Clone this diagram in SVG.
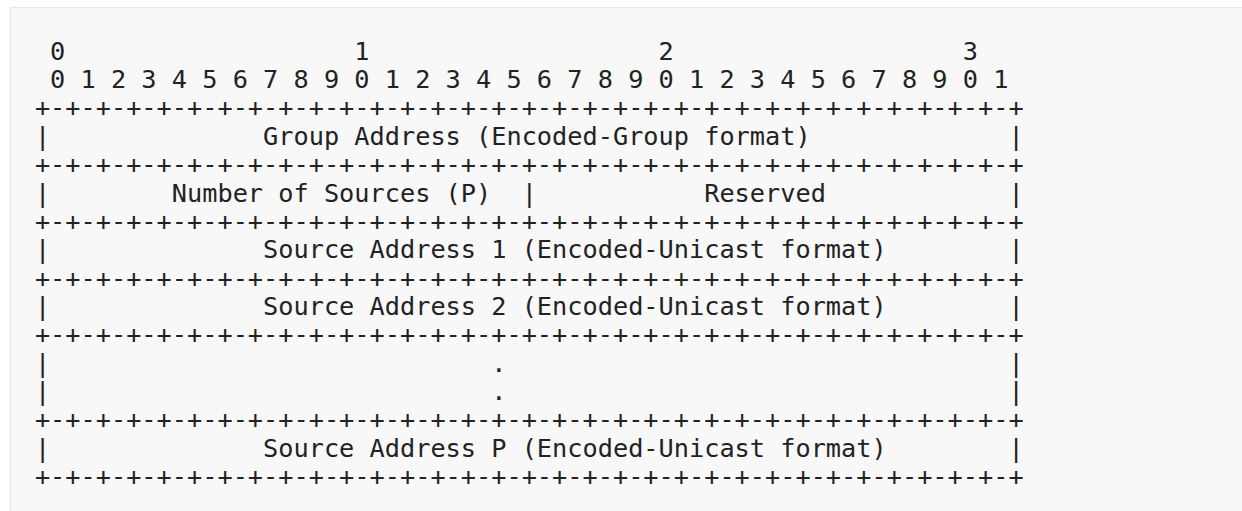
<svg xmlns="http://www.w3.org/2000/svg" width="1242" height="511" viewBox="0 0 1242 511">
<style>
.t{font-family:"DejaVu Sans Mono","Liberation Mono",monospace;font-size:25.28px;fill:#222;white-space:pre}
</style>
<rect x="0" y="0" width="1242" height="511" fill="#ffffff"/>
<rect x="10.5" y="7.5" width="1240" height="510" fill="#f8f8f8" stroke="#e6e6e6" stroke-width="1"/>
<g id="ruler">
<text class="t" x="34.9" y="59.7" xml:space="preserve"> 0                   1                   2                   3</text>
<text class="t" x="34.9" y="88.06" xml:space="preserve"> 0 1 2 3 4 5 6 7 8 9 0 1 2 3 4 5 6 7 8 9 0 1 2 3 4 5 6 7 8 9 0 1</text>
</g>
<g id="borders">
<text class="t" x="34.9" y="116.42" xml:space="preserve">+-+-+-+-+-+-+-+-+-+-+-+-+-+-+-+-+-+-+-+-+-+-+-+-+-+-+-+-+-+-+-+-+</text>
<text class="t" x="34.9" y="173.14" xml:space="preserve">+-+-+-+-+-+-+-+-+-+-+-+-+-+-+-+-+-+-+-+-+-+-+-+-+-+-+-+-+-+-+-+-+</text>
<text class="t" x="34.9" y="229.86" xml:space="preserve">+-+-+-+-+-+-+-+-+-+-+-+-+-+-+-+-+-+-+-+-+-+-+-+-+-+-+-+-+-+-+-+-+</text>
<text class="t" x="34.9" y="286.58" xml:space="preserve">+-+-+-+-+-+-+-+-+-+-+-+-+-+-+-+-+-+-+-+-+-+-+-+-+-+-+-+-+-+-+-+-+</text>
<text class="t" x="34.9" y="343.3" xml:space="preserve">+-+-+-+-+-+-+-+-+-+-+-+-+-+-+-+-+-+-+-+-+-+-+-+-+-+-+-+-+-+-+-+-+</text>
<text class="t" x="34.9" y="428.38" xml:space="preserve">+-+-+-+-+-+-+-+-+-+-+-+-+-+-+-+-+-+-+-+-+-+-+-+-+-+-+-+-+-+-+-+-+</text>
<text class="t" x="34.9" y="485.1" xml:space="preserve">+-+-+-+-+-+-+-+-+-+-+-+-+-+-+-+-+-+-+-+-+-+-+-+-+-+-+-+-+-+-+-+-+</text>
</g>
<g id="group-address">
<text class="t" x="34.9" y="144.78" xml:space="preserve">|              Group Address (Encoded-Group format)             |</text>
</g>
<g id="number-reserved">
<text class="t" x="34.9" y="201.5" xml:space="preserve">|        Number of Sources (P)  |           Reserved            |</text>
</g>
<g id="source-1">
<text class="t" x="34.9" y="258.22" xml:space="preserve">|              Source Address 1 (Encoded-Unicast format)        |</text>
</g>
<g id="source-2">
<text class="t" x="34.9" y="314.94" xml:space="preserve">|              Source Address 2 (Encoded-Unicast format)        |</text>
</g>
<g id="ellipsis">
<text class="t" x="34.9" y="371.66" xml:space="preserve">|                             .                                 |</text>
<text class="t" x="34.9" y="400.02" xml:space="preserve">|                             .                                 |</text>
</g>
<g id="source-p">
<text class="t" x="34.9" y="456.74" xml:space="preserve">|              Source Address P (Encoded-Unicast format)        |</text>
</g>
</svg>
